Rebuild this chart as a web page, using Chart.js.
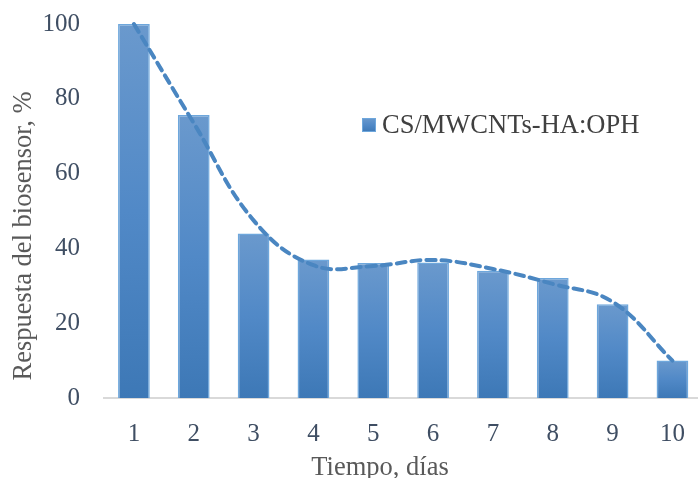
<!DOCTYPE html>
<html lang="es">
<head>
<meta charset="utf-8">
<title>Respuesta del biosensor</title>
<script src="https://cdn.jsdelivr.net/npm/chart.js@4.4.1/dist/chart.umd.min.js"></script>
<style>
  html, body { margin: 0; padding: 0; background: #ffffff; overflow: hidden; }
  #wrap { width: 698px; height: 478px; overflow: hidden; position: relative; }
  canvas { display: block; }
</style>
</head>
<body>
<div id="wrap"><canvas id="chart" width="706" height="478"></canvas></div>
<script>
// Días de medición
const dias = ['1', '2', '3', '4', '5', '6', '7', '8', '9', '10'];
// Respuesta relativa del biosensor (%)
const respuesta = [100, 75.7, 44, 37, 36.1, 36.2, 34, 32.1, 25.1, 10];
// Línea de tendencia (punteada)
const tendencia = [100, 73.5, 47.5, 35.5, 35.3, 36.9, 34.5, 30.5, 25.7, 10];
// Escala del eje Y
const yMin = 0, yMax = 100, yPaso = 20;

const serieNombre = 'CS/MWCNTs-HA:OPH';
const tituloX = 'Tiempo, días';
const tituloY = 'Respuesta del biosensor, %';

const SERIF = '"Liberation Serif", "Times New Roman", serif';

function barGradient(ctx, top, bottom) {
  const g = ctx.createLinearGradient(0, top, 0, bottom);
  g.addColorStop(0, '#6A99CD');
  g.addColorStop(0.5, '#5189C7');
  g.addColorStop(1, '#3D78B6');
  return g;
}

// Títulos de ejes y leyenda dibujados sobre el lienzo
const rotulos = {
  id: 'rotulos',
  afterDraw(chart) {
    const { ctx, chartArea } = chart;
    ctx.save();
    ctx.font = '26.5px ' + SERIF;
    ctx.fillStyle = '#595959';
    ctx.textAlign = 'center';
    ctx.textBaseline = 'alphabetic';
    ctx.fillText(tituloX, 380, 475);

    ctx.translate(24, 236);
    ctx.rotate(-Math.PI / 2);
    ctx.textBaseline = 'middle';
    ctx.fillText(tituloY, 0, 0);
    ctx.restore();

    // Leyenda
    ctx.save();
    const bx = chartArea.left + 258, by = chartArea.top + 94, bs = 14;
    ctx.fillStyle = barGradient(ctx, by, by + bs);
    ctx.fillRect(bx, by, bs, bs);
    ctx.strokeStyle = '#6EA7DC';
    ctx.lineWidth = 1;
    ctx.strokeRect(bx + 0.5, by + 0.5, bs - 1, bs - 1);
    ctx.font = '26.5px ' + SERIF;
    ctx.fillStyle = '#404040';
    ctx.textAlign = 'left';
    ctx.textBaseline = 'middle';
    ctx.fillText(chart.data.datasets[1].label, bx + 20, by + bs / 2 + 1);
    ctx.restore();
  }
};

new Chart(document.getElementById('chart'), {
  data: {
    labels: dias,
    datasets: [
      {
        type: 'line',
        label: 'Tendencia',
        data: tendencia,
        order: 0,
        borderColor: '#4A86C1',
        borderWidth: 4,
        borderDash: [9, 6],
        borderCapStyle: 'round',
        pointRadius: 0,
        tension: 0.4,
        fill: false,
        clip: false
      },
      {
        type: 'bar',
        label: serieNombre,
        data: respuesta,
        order: 1,
        barPercentage: 0.53,
        categoryPercentage: 1,
        borderColor: '#6EA7DC',
        borderWidth: 1.5,
        backgroundColor(c) {
          const chart = c.chart;
          const ys = chart.scales.y;
          if (!chart.chartArea || !ys || c.parsed === undefined) return '#5189C7';
          const top = ys.getPixelForValue(c.parsed.y);
          const base = ys.getPixelForValue(0);
          return barGradient(chart.ctx, top, base);
        }
      }
    ]
  },
  options: {
    responsive: false,
    animation: false,
    events: [],
    layout: { padding: { top: 24, right: 1, left: 0, bottom: 0 } },
    plugins: {
      legend: { display: false },
      tooltip: { enabled: false },
      title: { display: false }
    },
    scales: {
      x: {
        offset: true,
        grid: { display: false, drawTicks: false },
        border: { display: true, color: '#D9D9D9', width: 2 },
        ticks: {
          color: '#3F4E63',
          font: { family: SERIF, size: 25 },
          padding: 21,
          maxRotation: 0
        },
        afterFit(s) { s.height = 80; }
      },
      y: {
        min: yMin,
        max: yMax,
        grid: { display: false, drawTicks: false },
        border: { display: false },
        ticks: {
          stepSize: yPaso,
          color: '#3F4E63',
          font: { family: SERIF, size: 25 },
          padding: 24
        },
        afterFit(s) {
          s.width = 104;
          s.paddingTop = 0;
          s.paddingBottom = 0;
        }
      }
    }
  },
  plugins: [rotulos]
});
</script>
</body>
</html>
